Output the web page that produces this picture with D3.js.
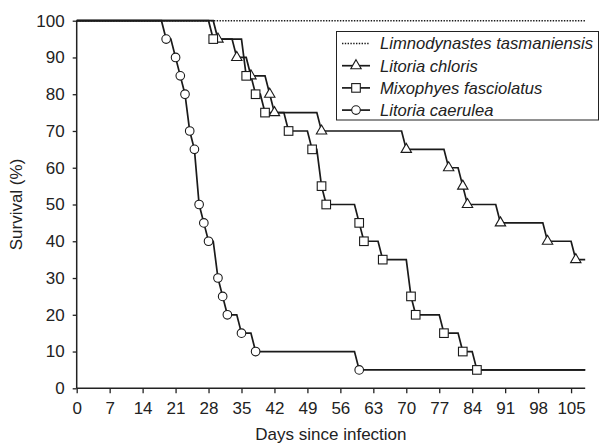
<!DOCTYPE html>
<html>
<head>
<meta charset="utf-8">
<script src="https://cdn.jsdelivr.net/npm/d3@7"></script>
<style>
  body { margin: 0; background: #fff; }
  svg { display: block; font-family: "Liberation Sans", Arial, sans-serif; }
</style>
</head>
<body>
<svg id="chart" width="601" height="443"></svg>
<script>
// survival data (day of death, % surviving after it)
var limnoDays = [];
var limnoSurvival = [];
var chlorisDays = [30, 34, 37, 41, 42, 52, 70, 79, 82, 83, 90, 100, 106];
var chlorisSurvival = [95, 90, 85, 80, 75, 70, 65, 60, 55, 50, 45, 40, 35];
var mixoDays = [29, 36, 38, 40, 45, 50, 52, 53, 60, 61, 65, 71, 72, 78, 82, 85];
var mixoSurvival = [95, 85, 80, 75, 70, 65, 55, 50, 45, 40, 35, 25, 20, 15, 10, 5];
var caeruleaDays = [19, 21, 22, 23, 24, 25, 26, 27, 28, 30, 31, 32, 35, 38, 60];
var caeruleaSurvival = [95, 90, 85, 80, 70, 65, 50, 45, 40, 30, 25, 20, 15, 10, 5];

var speciesNames = ["Limnodynastes tasmaniensis", "Litoria chloris", "Mixophyes fasciolatus", "Litoria caerulea"];
var xTicks = [0, 7, 14, 21, 28, 35, 42, 49, 56, 63, 70, 77, 84, 91, 98, 105];
var yTicks = [0, 10, 20, 30, 40, 50, 60, 70, 80, 90, 100];
var lastDay = 108;

var svg = d3.select("#chart");

var x = d3.scaleLinear().domain([0, lastDay]).range([76.7, 585.2]);
var y = d3.scaleLinear().domain([0, 100]).range([388.3, 20.7]);

var series = [
    { name: speciesNames[0], days: limnoDays, surv: limnoSurvival, marker: null, dotted: true },
    { name: speciesNames[1], days: chlorisDays, surv: chlorisSurvival, marker: "triangle" },
    { name: speciesNames[2], days: mixoDays, surv: mixoSurvival, marker: "square" },
    { name: speciesNames[3], days: caeruleaDays, surv: caeruleaSurvival, marker: "circle" }
];

// step curve: flat, then a short slant down to the new level (about a day wide)
var stepPoints = function (s) {
    var pts = [[0, 100]];
    var prevDay = 0, prevVal = 100;
    for (var i = 0; i < s.days.length; i++) {
        var d = s.days[i];
        var slant = Math.min(1, d - prevDay);
        pts.push([d - slant, prevVal]);
        pts.push([d, s.surv[i]]);
        prevDay = d;
        prevVal = s.surv[i];
    }
    pts.push([lastDay, prevVal]);
    return pts;
};

var line = d3.line()
    .x(function (p) { return x(p[0]); })
    .y(function (p) { return y(p[1]); });

var drawMarker = function (g, type, cx, cy) {
    if (type == "circle") {
        g.append("circle").attr("cx", cx).attr("cy", cy).attr("r", 4.3)
            .attr("fill", "#fff").attr("stroke", "#1a1a1a").attr("stroke-width", 1.1);
    } else if (type == "square") {
        g.append("rect").attr("x", cx - 4.3).attr("y", cy - 4.3)
            .attr("width", 8.6).attr("height", 8.6)
            .attr("fill", "#fff").attr("stroke", "#1a1a1a").attr("stroke-width", 1.1);
    } else if (type == "triangle") {
        var p = d3.path();
        p.moveTo(cx, cy - 6);
        p.lineTo(cx + 5.2, cy + 3);
        p.lineTo(cx - 5.2, cy + 3);
        p.closePath();
        g.append("path").attr("d", p.toString())
            .attr("fill", "#fff").attr("stroke", "#1a1a1a").attr("stroke-width", 1.1);
    }
};

// axes
var yAxis = d3.axisLeft(y).tickValues(yTicks).tickSize(4).tickPadding(8);
var xAxis = d3.axisBottom(x).tickValues(xTicks).tickSize(5).tickPadding(9);

var gy = svg.append("g").attr("transform", "translate(" + x(0) + ",0)").call(yAxis);
var gx = svg.append("g").attr("transform", "translate(0," + y(0) + ")").call(xAxis);
[gy, gx].forEach(function (g) {
    g.select(".domain").attr("stroke", "#222").attr("stroke-width", 1.5);
    g.selectAll(".tick line").attr("stroke", "#222").attr("stroke-width", 1.3);
    g.selectAll(".tick text").attr("fill", "#222").style("font-size", "17px")
        .style("font-family", "Liberation Sans, Arial, sans-serif");
});
// keep only the axis line, without the outer tick caps
gy.select(".domain").attr("d", "M0," + y(100) + "V" + y(0));
gx.select(".domain").attr("d", "M" + x(0) + ",0H" + x(lastDay));

svg.append("text")
    .attr("transform", "translate(22," + ((y(0) + y(100)) / 2) + ") rotate(-90)")
    .attr("text-anchor", "middle")
    .attr("fill", "#222")
    .style("font-size", "17px")
    .text("Survival (%)");

svg.append("text")
    .attr("x", (x(0) + x(lastDay)) / 2)
    .attr("y", 440)
    .attr("text-anchor", "middle")
    .attr("fill", "#222")
    .style("font-size", "17px")
    .text("Days since infection");

// curves
var curves = svg.append("g");
series.forEach(function (s) {
    curves.append("path")
        .attr("d", line(stepPoints(s)))
        .attr("fill", "none")
        .attr("stroke", "#1a1a1a")
        .attr("stroke-width", s.dotted ? 1.4 : 1.7)
        .attr("stroke-dasharray", s.dotted ? "1.4,1.4" : null);
});

var markers = svg.append("g");
series.forEach(function (s) {
    if (!s.marker) return;
    for (var i = 0; i < s.days.length; i++) {
        drawMarker(markers, s.marker, x(s.days[i]), y(s.surv[i]));
    }
});

// legend
var legend = svg.append("g");
legend.append("rect")
    .attr("x", 336.5).attr("y", 31.5)
    .attr("width", 262).attr("height", 88.5)
    .attr("fill", "#fff").attr("stroke", "#222").attr("stroke-width", 1);

series.forEach(function (s, i) {
    var ly = 43.5 + i * 22.2;
    legend.append("line")
        .attr("x1", 342).attr("x2", 370).attr("y1", ly).attr("y2", ly)
        .attr("stroke", "#1a1a1a")
        .attr("stroke-width", s.dotted ? 1.4 : 1.7)
        .attr("stroke-dasharray", s.dotted ? "1.4,1.4" : null);
    if (s.marker) drawMarker(legend, s.marker, 356, ly);
    legend.append("text")
        .attr("x", 380).attr("y", ly + 5.8)
        .attr("fill", "#222")
        .style("font-size", "16.6px")
        .style("font-style", "italic")
        .text(s.name);
});
</script>
</body>
</html>
